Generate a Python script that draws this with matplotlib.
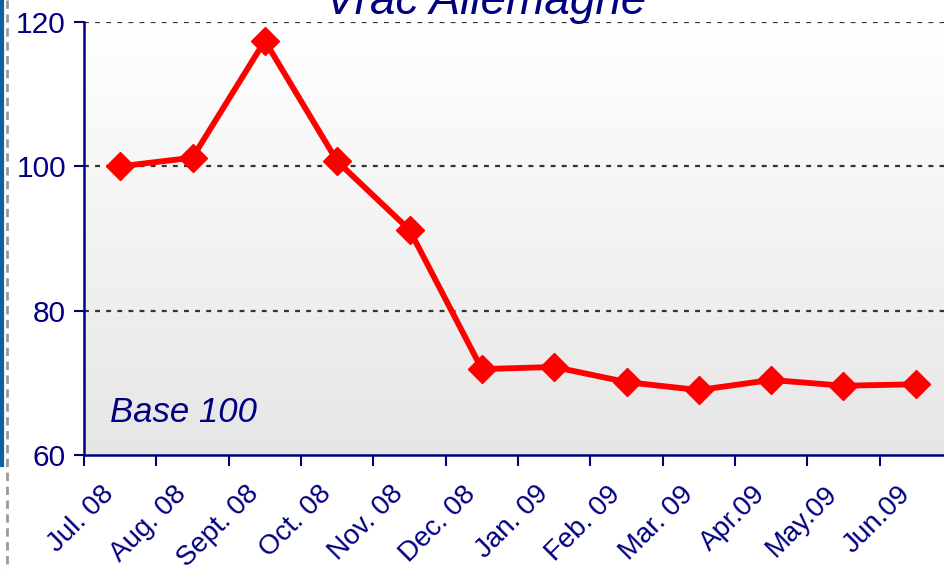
import matplotlib
matplotlib.use("Agg")
import matplotlib.pyplot as plt
import numpy as np
from matplotlib.lines import Line2D
from matplotlib.transforms import ScaledTranslation
from matplotlib.colors import LinearSegmentedColormap

months = ["Jul. 08", "Aug. 08", "Sept. 08", "Oct. 08", "Nov. 08", "Dec. 08",
          "Jan. 09", "Feb. 09", "Mar. 09", "Apr.09", "May.09", "Jun.09"]
values = [100.0, 101.2, 117.4, 100.7, 91.2, 71.9, 72.2, 70.1, 69.0, 70.4, 69.6, 69.8]
yticks = [60, 80, 100, 120]
title = "Vrac Allemagne"
note = "Base 100"

NAVY = "#000080"
plt.rcParams['font.family'] = ['Liberation Sans', 'DejaVu Sans']

fig = plt.figure(figsize=(9.44, 5.70), dpi=100)
ax = fig.add_axes([84/944, 115/570, 868/944, 433/570])

# gradient background
grad = np.linspace(0, 1, 256).reshape(-1, 1)
cmap = LinearSegmentedColormap.from_list("g", ["#ffffff", "#e6e6e6"])
ax.imshow(grad, extent=[0, 1, 0, 1], transform=ax.transAxes, aspect='auto',
          cmap=cmap, origin='upper', zorder=0)

x = np.arange(len(months))
ax.plot(x, values, color="#ff0000", lw=4.2, marker='D', markersize=14,
        markeredgecolor="#ff0000", markeredgewidth=1, zorder=5, clip_on=False)

ax.set_xlim(-0.5, len(months) - 0.5)
ax.set_ylim(60, 120)
ax.set_yticks(yticks)
ax.set_yticklabels([str(v) for v in yticks])

for v in yticks[1:]:
    ax.axhline(v, color="#333333", lw=1.6, ls=(0, (2.2, 2.8)), zorder=1)

ax.set_xticks(x)
ax.set_xticklabels(months, rotation=45, ha='right', va='top', rotation_mode='anchor')
ax.set_xticks(np.arange(-0.5, len(months)), minor=True)
ax.tick_params(axis='x', which='major', length=0, pad=0, labelsize=20, labelcolor=NAVY)
ax.tick_params(axis='x', which='minor', length=8, width=1.5, color=NAVY, direction='out')
ax.tick_params(axis='y', length=7, width=1.5, color=NAVY, direction='out', pad=6,
               labelsize=21.5, labelcolor=NAVY)
offset = ScaledTranslation(-19/100, -26/100, fig.dpi_scale_trans)
for lbl in ax.get_xticklabels():
    lbl.set_transform(lbl.get_transform() + offset)

for s in ['top', 'right']:
    ax.spines[s].set_visible(False)
for s in ['left', 'bottom']:
    ax.spines[s].set_color(NAVY)
    ax.spines[s].set_linewidth(1.8)

ax.text(26/868, 0.076, note, transform=ax.transAxes, fontsize=25, style='italic',
        color=NAVY, ha='left', va='baseline')

fig.text(486/944, 1 - 14/570, title, fontsize=33, style='italic', color=NAVY,
         ha='center', va='baseline')

# left decorations
fig.add_artist(Line2D([2/944, 2/944], [1, 1 - 465/570], transform=fig.transFigure,
                      color="#0e5fa3", lw=3))
fig.add_artist(Line2D([6.5/944, 6.5/944], [1, 0], transform=fig.transFigure,
                      color="#999999", lw=2, ls=(0, (3, 2))))

fig.savefig("out.png", dpi=100)
